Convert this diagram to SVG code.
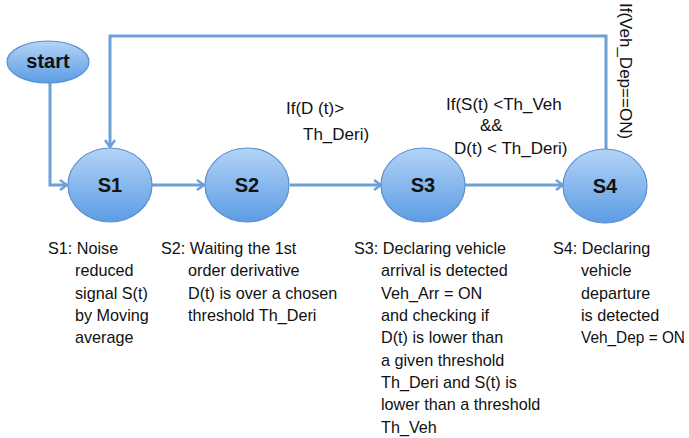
<svg xmlns="http://www.w3.org/2000/svg" width="689" height="438" viewBox="0 0 689 438">
<style>
  .node { fill: url(#g); stroke: #5d8fd0; stroke-width: 1.2; }
  .nt { font-family: "Liberation Sans", Arial, sans-serif; font-weight: bold; font-size: 20px; fill: #111; text-anchor: middle; }
  .lbl { font-family: "Liberation Sans", Arial, sans-serif; font-size: 17px; fill: #111; }
  .desc { font-family: "Liberation Sans", Arial, sans-serif; font-size: 16.2px; fill: #111; }
  .edge { fill: none; stroke: #6e9fd6; stroke-width: 3; }
</style>
<defs>
  <linearGradient id="g" x1="0" y1="0" x2="0" y2="1">
    <stop offset="0" stop-color="#b3d4f7"/>
    <stop offset="1" stop-color="#5c9ce3"/>
  </linearGradient>
  <marker id="arr" markerWidth="12" markerHeight="12" refX="10" refY="6" orient="auto" markerUnits="userSpaceOnUse">
    <polyline points="3,1 10,6 3,11" fill="none" stroke="#6e9fd6" stroke-width="2.5"/>
  </marker>
</defs>
<rect width="689" height="438" fill="#fff"/>
<g id="connectors">
  <polyline class="edge" points="50,83 50,185 67,185" marker-end="url(#arr)"/>
  <polyline class="edge" points="606,150 606,36 110,36 110,147" marker-end="url(#arr)"/>
  <line class="edge" x1="152" y1="185" x2="204" y2="185" marker-end="url(#arr)"/>
  <line class="edge" x1="290" y1="185" x2="381" y2="185" marker-end="url(#arr)"/>
  <line class="edge" x1="465" y1="185" x2="563" y2="185" marker-end="url(#arr)"/>
</g>
<g id="start">
  <ellipse class="node" cx="48" cy="62" rx="41" ry="21"/>
  <text class="nt" x="48" y="68" font-size="16">start</text>
</g>
<g id="S1">
  <ellipse class="node" cx="110" cy="185" rx="42" ry="37"/>
  <text class="nt" x="110" y="192">S1</text>
</g>
<g id="S2">
  <ellipse class="node" cx="247" cy="185" rx="42" ry="37"/>
  <text class="nt" x="247" y="192">S2</text>
</g>
<g id="S3">
  <ellipse class="node" cx="423" cy="185" rx="42" ry="37"/>
  <text class="nt" x="423" y="192">S3</text>
</g>
<g id="S4">
  <ellipse class="node" cx="605" cy="186" rx="42" ry="37"/>
  <text class="nt" x="605" y="193">S4</text>
</g>
<g id="labels">
  <text class="lbl" x="286" y="114">If(D (t)&gt;</text>
  <text class="lbl" x="303" y="140">Th_Deri)</text>
  <text class="lbl" x="446" y="110">If(S(t) &lt;Th_Veh</text>
  <text class="lbl" x="480" y="131">&amp;&amp;</text>
  <text class="lbl" x="454" y="154">D(t) &lt; Th_Deri)</text>
  <text class="lbl" transform="translate(620,3) rotate(90)">If(Veh_Dep==ON)</text>
</g>
<g id="descriptions">
  <text class="desc" x="48" y="254">S1: Noise</text>
  <text class="desc" x="75" y="276">reduced</text>
  <text class="desc" x="75" y="299">signal S(t)</text>
  <text class="desc" x="75" y="321">by Moving</text>
  <text class="desc" x="75" y="343">average</text>
  <text class="desc" x="161" y="254">S2: Waiting the 1st</text>
  <text class="desc" x="188" y="276">order derivative</text>
  <text class="desc" x="188" y="299">D(t) is over a chosen</text>
  <text class="desc" x="188" y="321">threshold Th_Deri</text>
  <text class="desc" x="354" y="254">S3: Declaring vehicle</text>
  <text class="desc" x="381" y="276">arrival is detected</text>
  <text class="desc" x="381" y="299">Veh_Arr = ON</text>
  <text class="desc" x="381" y="321">and checking if</text>
  <text class="desc" x="381" y="343">D(t) is lower than</text>
  <text class="desc" x="381" y="366">a given threshold</text>
  <text class="desc" x="381" y="388">Th_Deri and S(t) is</text>
  <text class="desc" x="381" y="410">lower than a threshold</text>
  <text class="desc" x="381" y="433">Th_Veh</text>
  <text class="desc" x="553" y="254">S4: Declaring</text>
  <text class="desc" x="581" y="276">vehicle</text>
  <text class="desc" x="581" y="299">departure</text>
  <text class="desc" x="581" y="321">is detected</text>
  <text class="desc" x="581" y="343" textLength="104" lengthAdjust="spacingAndGlyphs">Veh_Dep = ON</text>
</g>
</svg>
